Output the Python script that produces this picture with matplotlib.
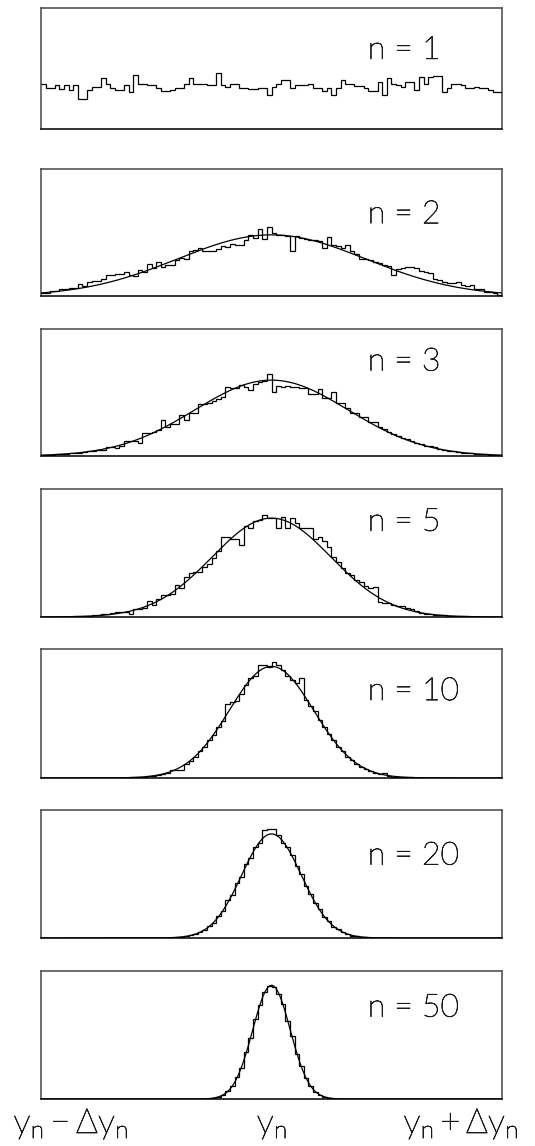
import numpy as np
import matplotlib
matplotlib.use("Agg")
import matplotlib.pyplot as plt
import matplotlib.patheffects as pe

# ---- data -------------------------------------------------------------
# number of averaged variables in each panel
n_values = [1, 2, 3, 5, 10, 20, 50]

# histogram range [y_n - dy_n, y_n + dy_n] split into 100 bins
x_lo, x_hi, n_bins = -1.0, 1.0, 100

# bin contents (entries per bin) for each panel
counts_n1 = [107, 96, 96, 103, 94, 103, 92, 103, 70, 70,
             92, 99, 99, 119, 107, 96, 92, 92, 103, 88,
             127, 107, 107, 103, 103, 97, 89, 89, 92, 97,
             97, 107, 121, 107, 105, 105, 103, 103, 131, 103,
             99, 105, 105, 96, 96, 94, 94, 96, 96, 81,
             99, 107, 115, 115, 97, 103, 103, 103, 107, 96,
             96, 89, 97, 81, 96, 115, 107, 107, 102, 102,
             96, 89, 89, 111, 80, 121, 107, 103, 99, 111,
             111, 92, 123, 107, 123, 125, 125, 86, 97, 107,
             107, 103, 96, 96, 99, 96, 96, 92, 86, 86]

counts_n2 = [10, 10, 15, 15, 21, 21, 26, 26, 39, 32,
             45, 47, 47, 55, 66, 66, 71, 71, 75, 68,
             64, 82, 77, 101, 90, 109, 93, 98, 100, 114,
             122, 119, 143, 146, 154, 143, 143, 143, 151, 158,
             157, 167, 164, 164, 178, 196, 185, 215, 182, 220,
             200, 194, 194, 191, 143, 191, 185, 181, 178, 177,
             175, 154, 189, 162, 159, 154, 164, 143, 135, 117,
             119, 115, 109, 106, 100, 95, 68, 87, 89, 93,
             93, 90, 80, 75, 72, 55, 50, 45, 42, 40,
             45, 36, 32, 34, 21, 22, 13, 13, 10, 4]

counts_n3 = [3, 3, 4, 5, 6, 7, 8, 10, 11, 12,
             15, 15, 19, 20, 28, 28, 25, 32, 46, 46,
             46, 40, 74, 72, 77, 83, 112, 92, 102, 102,
             128, 113, 134, 134, 165, 165, 168, 173, 179, 186,
             218, 213, 213, 223, 218, 207, 228, 234, 236, 257,
             202, 221, 218, 220, 218, 218, 213, 213, 194, 194,
             210, 183, 183, 202, 168, 168, 150, 136, 135, 124,
             122, 108, 106, 92, 86, 76, 70, 63, 58, 52,
             47, 42, 39, 33, 31, 28, 23, 20, 17, 15,
             13, 11, 9, 8, 7, 5, 5, 4, 3, 3]

counts_n5 = [0, 0, 0, 1, 1, 1, 1, 2, 2, 3,
             4, 5, 6, 8, 10, 12, 16, 16, 16, 10,
             25, 25, 27, 49, 39, 57, 68, 68, 73, 99,
             91, 125, 136, 141, 141, 157, 167, 183, 206, 250,
             250, 243, 243, 224, 285, 277, 300, 303, 320, 308,
             308, 277, 313, 277, 308, 295, 279, 277, 277, 245,
             251, 237, 219, 188, 172, 153, 136, 131, 116, 108,
             98, 90, 95, 47, 45, 45, 37, 34, 34, 28,
             24, 18, 13, 10, 10, 5, 5, 5, 4, 3,
             2, 2, 2, 1, 1, 1, 1, 0, 0, 0]

counts_n10 = [0, 0, 0, 0, 0, 0, 0, 0, 0, 0,
              0, 0, 0, 0, 0, 0, 0, 1, 1, 2,
              2, 3, 5, 6, 9, 12, 16, 21, 30, 33,
              33, 54, 68, 82, 105, 122, 150, 168, 200, 222,
              290, 296, 300, 330, 365, 391, 400, 442, 442, 435,
              455, 442, 422, 400, 383, 370, 390, 305, 280, 262,
              228, 200, 172, 148, 122, 104, 84, 72, 56, 45,
              35, 27, 21, 16, 20, 8, 5, 4, 3, 2,
              2, 1, 0, 0, 0, 0, 0, 0, 0, 0,
              0, 0, 0, 0, 0, 0, 0, 0, 0, 0]

counts_n20 = [0, 0, 0, 0, 0, 0, 0, 0, 0, 0,
              0, 0, 0, 0, 0, 0, 0, 0, 0, 0,
              0, 0, 0, 0, 0, 0, 0, 1, 2, 4,
              6, 10, 16, 24, 36, 48, 72, 90, 132, 160,
              225, 255, 328, 365, 440, 475, 540, 565, 640, 645,
              645, 610, 565, 540, 490, 425, 380, 310, 262, 205,
              170, 122, 98, 66, 52, 33, 24, 14, 10, 6,
              4, 2, 1, 0, 0, 0, 0, 0, 0, 0,
              0, 0, 0, 0, 0, 0, 0, 0, 0, 0,
              0, 0, 0, 0, 0, 0, 0, 0, 0, 0]

counts_n50 = [0, 0, 0, 0, 0, 0, 0, 0, 0, 0,
              0, 0, 0, 0, 0, 0, 0, 0, 0, 0,
              0, 0, 0, 0, 0, 0, 0, 0, 0, 0,
              0, 0, 0, 0, 1, 2, 4, 9, 20, 34,
              68, 108, 185, 270, 400, 525, 685, 805, 920, 975,
              965, 905, 815, 670, 540, 390, 280, 178, 115, 62,
              37, 18, 10, 4, 2, 1, 0, 0, 0, 0,
              0, 0, 0, 0, 0, 0, 0, 0, 0, 0,
              0, 0, 0, 0, 0, 0, 0, 0, 0, 0,
              0, 0, 0, 0, 0, 0, 0, 0, 0, 0]

histograms = [counts_n1, counts_n2, counts_n3, counts_n5,
              counts_n10, counts_n20, counts_n50]

# Gaussian fit parameters per panel (None: no fit drawn)
fit_amplitude = [None, 195, 239, 309, 437, 618, 977]
fit_mean = [None, 0.0, 0.0, 0.0, 0.0, 0.0, 0.0]
fit_sigma = [None, 0.408, 0.333, 0.258, 0.183, 0.129, 0.0816]

# vertical range of each panel
y_max = [285, 405, 400, 400, 505, 760, 1100]

# axis labels under the last panel
tick_positions = [-1.0, 0.0, 1.0]
tick_labels = [r"$\mathrm{y_n - \Delta y_n}$", r"$\mathrm{y_n}$",
               r"$\mathrm{y_n + \Delta y_n}$"]

# ---- style --------------------------------------------------------------
plt.rcParams["font.family"] = ["Lato", "DejaVu Sans"]
plt.rcParams["mathtext.fontset"] = "custom"
plt.rcParams["mathtext.rm"] = "Lato:light"
plt.rcParams["mathtext.it"] = "Lato:light"

# thin glyphs, slightly darkened by a hairline outline
thin_ink = [pe.withStroke(linewidth=0.55, foreground="#1a1a1a")]

W, H = 535, 1146
fig = plt.figure(figsize=(W / 100, H / 100), dpi=100)

# panel frames in pixels (top, bottom)
frames = [(8, 129), (169, 296), (329, 456), (489, 617),
          (649, 778), (810, 938), (971, 1099)]
left_px, right_px = 41, 502
label_y = [0.65, 0.64, 0.74, 0.74, 0.67, 0.64, 0.71]

edges = np.linspace(x_lo, x_hi, n_bins + 1)
xs = np.linspace(x_lo, x_hi, 600)

axes = []
for k, (top, bot) in enumerate(frames):
    ax = fig.add_axes([left_px / W, 1 - bot / H,
                       (right_px - left_px) / W, (bot - top) / H])
    axes.append(ax)
    ax.stairs(histograms[k], edges, color="black", lw=0.9,
              baseline=None, zorder=3)
    if fit_amplitude[k] is not None:
        fx = fit_amplitude[k] * np.exp(-0.5 * ((xs - fit_mean[k]) / fit_sigma[k]) ** 2)
        ax.plot(xs, fx, color="black", lw=0.9, zorder=4)
    ax.set_xlim(x_lo, x_hi)
    ax.set_ylim(0, y_max[k])
    ax.set_xticks([])
    ax.set_yticks([])
    for name, sp in ax.spines.items():
        sp.set_color("#555555" if name != "bottom" else "#111111")
        sp.set_linewidth(1.2)
    ax.text(0.709, label_y[k], f"n = {n_values[k]}", transform=ax.transAxes,
            ha="left", va="center", fontsize=23, fontweight="light",
            color="#1a1a1a", path_effects=thin_ink)

# labels below the bottom panel
label_px = [71, 272, 461]
for xp, lab in zip(label_px, tick_labels):
    fig.text(xp / W, 1 - 1133 / H, lab, ha="center", va="baseline",
             fontsize=25, color="#1a1a1a", path_effects=thin_ink)

fig.savefig("out.png", dpi=100)
